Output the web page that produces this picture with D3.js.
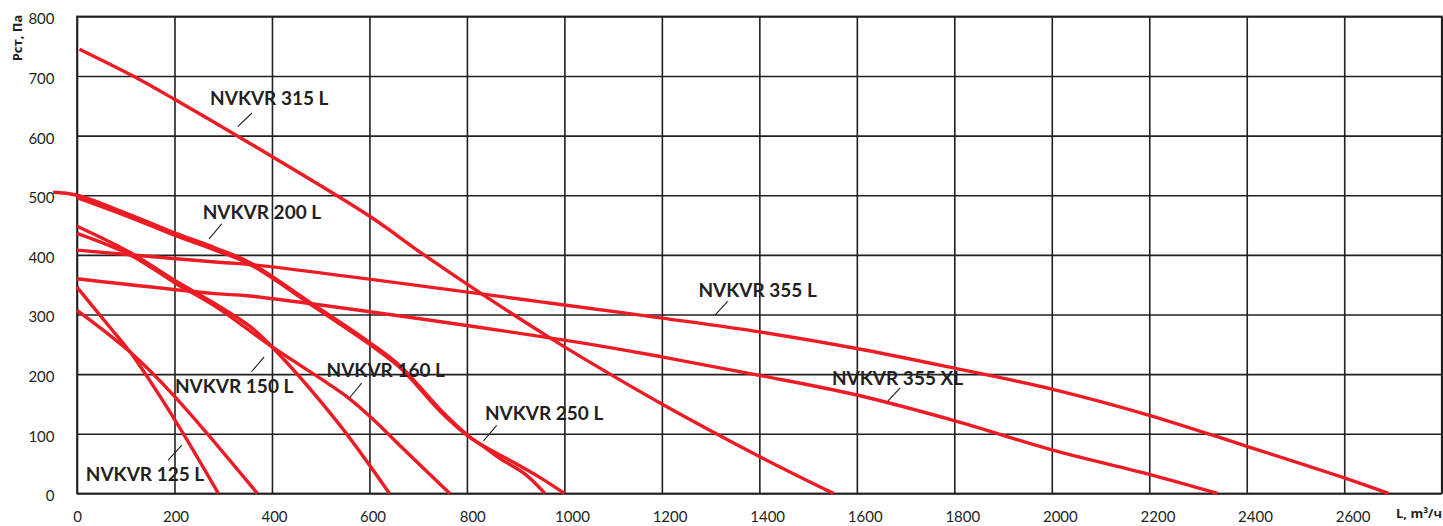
<!DOCTYPE html>
<html>
<head>
<meta charset="utf-8">
<script src="https://cdn.jsdelivr.net/npm/d3@7"></script>
<style>
  html, body { margin: 0; padding: 0; background: #ffffff; }
  svg { display: block; }
</style>
</head>
<body>
<svg id="chart" width="1443" height="526"></svg>
<script>
// ---------- DATA ----------
const xTicks = [0, 200, 400, 600, 800, 1000, 1200, 1400, 1600, 1800, 2000, 2200, 2400, 2600];
const xGrid  = [0, 200, 400, 600, 800, 1000, 1200, 1400, 1600, 1800, 2000, 2200, 2400, 2600, 2800];
const yTicks = [0, 100, 200, 300, 400, 500, 600, 700, 800];

const xTitle = "L, m³/ч";
const yTitle = "Рст, Па";

// each series: [L, Pst] pairs
const nvkvr125L  = [[0,346],[64,282],[109,237],[201,123],[290,0]];
const nvkvr125b  = [[0,307],[109,237],[201,162],[370,0]];
const nvkvr150L  = [[0,448],[109,404],[201,357],[283,318],[355,280],[400,246],[534,120],[641,0]];
const nvkvr160L  = [[0,436],[109,400],[201,353],[283,314],[400,246],[554,162],[609,123],[664,79],[765,0]];
const nvkvr200L  = [[-49,505],[0,500],[109,467],[200,437],[283,412],[355,387],[479,320],[602,252],[664,213],[746,140],[801,98],[835,78],[869,58],[920,32],[960,0]];
const nvkvr250L  = [[0,496],[109,463],[200,433],[283,408],[355,384],[479,317],[602,249],[664,210],[746,137],[801,97],[835,79],[900,50],[951,26],[1000,0]];
const nvkvr315L  = [[5,745],[115,700],[200,661],[400,565],[602,464],[712,400],[835,332],[972,260],[1034,229],[1200,150],[1400,62],[1552,0]];
const nvkvr355L  = [[0,408],[283,388],[355,384],[1000,316],[1200,294],[1400,271],[1600,243],[1800,210],[2000,175],[2200,131],[2400,79],[2600,26],[2691,0]];
const nvkvr355XL = [[0,360],[283,335],[355,331],[1000,257],[1200,229],[1400,198],[1600,165],[1800,122],[2000,73],[2200,32],[2340,0]];

const seriesList = [nvkvr125L, nvkvr125b, nvkvr150L, nvkvr160L, nvkvr200L, nvkvr250L, nvkvr315L, nvkvr355L, nvkvr355XL];

// curve labels: text, anchor [L, Pst], leader line [L1, P1, L2, P2] (in data units)
const labelNames  = ["NVKVR 315 L", "NVKVR 200 L", "NVKVR 355 L", "NVKVR 355 XL", "NVKVR 150 L", "NVKVR 160 L", "NVKVR 250 L", "NVKVR 125 L"];
const labelAt     = [[273,651],[258,460],[1275,329],[1549,182],[201,168],[512,195],[837,123],[18,21]];
const labelLeader = [[330,615,359,638],[271,427,297,452],[1309,299,1335,322],[1664,155,1689,177],[358,204,384,229],[559,160,584,185],[834,88,861,114],[187,56,215,81]];

// ---------- LAYOUT ----------
const svg = d3.select("#chart");
const plotL = 77, plotR = 1441.7, plotT = 16.4, plotB = 493.4;
const ink = "#231f20";
const red = "#ed1c24";

const x = d3.scaleLinear().domain([0, 2800]).range([plotL, plotR]);
const y = d3.scaleLinear().domain([0, 800]).range([plotB, plotT]);
// tick labels in the reference sit slightly right of their grid lines
const xLab = d3.scaleLinear().domain([0, 600, 1000, 2600]).range([77, 372.5, 572, 1352.6]);

// grid
const gx = svg.append("g").attr("transform", `translate(0,${plotB})`)
  .call(d3.axisBottom(x).tickValues(xGrid).tickSize(-(plotB - plotT)).tickSizeOuter(0).tickFormat(""));
gx.select(".domain").remove();
gx.selectAll("line").attr("stroke", ink).attr("stroke-width", 1.6);

const gy = svg.append("g").attr("transform", `translate(${plotL},0)`)
  .call(d3.axisLeft(y).tickValues(yTicks).tickSize(-(plotR - plotL)).tickSizeOuter(0).tickFormat(""));
gy.select(".domain").remove();
gy.selectAll("line").attr("stroke", ink).attr("stroke-width", 1.6);

svg.append("rect").attr("x", plotL).attr("y", plotT).attr("width", plotR - plotL).attr("height", plotB - plotT)
  .attr("fill", "none").attr("stroke", ink).attr("stroke-width", 1.6);

// tick labels
const ly = svg.append("g").attr("transform", `translate(${plotL},2.6)`)
  .call(d3.axisLeft(y).tickValues(yTicks).tickSize(0).tickPadding(22.5).tickFormat(d3.format("d")));
ly.select(".domain").remove();
ly.selectAll("text").attr("font-family", "Lato, 'Open Sans', sans-serif").attr("font-size", 15).attr("fill", ink);

const lx = svg.append("g").attr("transform", `translate(0,${plotB})`)
  .call(d3.axisBottom(xLab).tickValues(xTicks).tickSize(0).tickPadding(18.4).tickFormat(d3.format("d")));
lx.select(".domain").remove();
lx.selectAll("text").attr("font-family", "Lato, 'Open Sans', sans-serif").attr("font-size", 15).attr("fill", ink);

// axis titles
svg.append("text")
  .attr("transform", "translate(22,38) rotate(-90)")
  .attr("text-anchor", "middle")
  .attr("font-family", "'Open Sans', 'Noto Sans', sans-serif").attr("font-weight", 700).attr("font-size", 13)
  .attr("fill", ink).text(yTitle);

svg.append("text")
  .attr("x", 1442).attr("y", 518).attr("text-anchor", "end")
  .attr("font-family", "'Open Sans', 'Noto Sans', sans-serif").attr("font-weight", 700).attr("font-size", 13)
  .attr("fill", ink).text(xTitle);

// curves
const line = d3.line().x(d => x(d[0])).y(d => y(d[1])).curve(d3.curveCatmullRom.alpha(0.5));
svg.append("g").selectAll("path").data(seriesList).join("path")
  .attr("d", line).attr("fill", "none").attr("stroke", red).attr("stroke-width", 3.4);

// leader lines + labels
svg.append("g").selectAll("line").data(labelLeader).join("line")
  .attr("x1", d => x(d[0])).attr("y1", d => y(d[1])).attr("x2", d => x(d[2])).attr("y2", d => y(d[3]))
  .attr("stroke", ink).attr("stroke-width", 1.1);

svg.append("g").selectAll("text").data(labelNames).join("text")
  .attr("x", (d, i) => x(labelAt[i][0])).attr("y", (d, i) => y(labelAt[i][1]))
  .attr("font-family", "Lato, 'Open Sans', sans-serif").attr("font-weight", 700).attr("font-size", 19)
  .attr("fill", ink).text(d => d);
</script>
</body>
</html>
